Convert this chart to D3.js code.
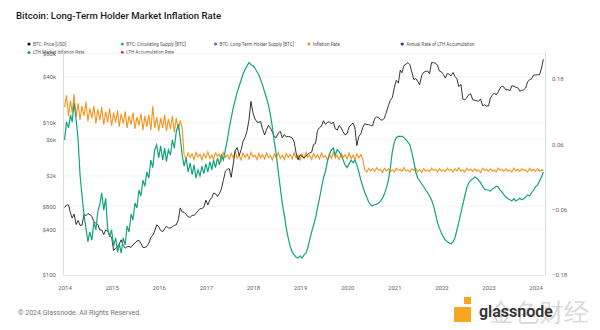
<!DOCTYPE html>
<html>
<head>
<meta charset="utf-8">
<script src="https://cdn.jsdelivr.net/npm/d3@7"></script>
<style>
  body { margin: 0; background: #fff; }
  svg { display: block; font-family: Roboto, Inter, "Noto Sans", sans-serif; }
</style>
</head>
<body>
<div id="chart"></div>
<script>
const width = 600, height = 330;
const plot = { left: 63, right: 545, top: 50, bottom: 275 };

// ---- data (half-monthly samples: 1st and 16th of each month, from Jan 2014) ----
const priceUsd = [
  770,830,830,650,560,630,460,520,450,450,630,600,640,620,590,500,480,460,390,390,340,390,380,330,
  315,210,225,235,255,290,245,225,235,237,230,250,262,280,285,260,230,230,237,262,312,330,378,455,
  430,385,370,405,437,415,416,430,448,455,530,760,673,665,624,580,573,607,608,640,700,740,745,780,
  960,830,970,1040,1190,1170,1070,1180,1350,1740,2300,2450,2480,1920,2870,4300,4700,3700,4400,5700,6450,7800,10900,19000,
  13500,11200,10200,10100,10400,8300,6900,8100,9200,8500,7500,6500,6400,7300,7700,6300,7000,6500,6600,6500,6300,5600,4000,3250,
  3800,3600,3450,3650,3850,4000,4100,5200,5300,7900,8600,9000,10600,9500,10100,10300,9600,10200,8300,8000,9200,8500,7550,6900,
  7200,8800,9350,9900,8550,5000,6650,7100,8650,9700,9450,9500,9150,9150,11350,11900,11650,10900,10800,11500,13800,16700,19700,21300,
  29000,36000,33100,49000,45200,56000,58800,61300,57700,46400,36700,38000,35000,31500,41500,45900,47100,47800,43800,61500,61300,60400,56900,47600,
  46300,43100,38500,44500,43200,41100,45500,40400,37700,29800,31800,20400,19900,21200,23300,23900,20000,19700,19400,19100,20500,16700,17200,16600,
  16600,21200,23100,24600,23150,25000,28500,30300,29300,27000,27200,26300,30500,30200,29200,28700,25900,26600,27000,28500,34700,36600,37700,42200,
  42300,42600,42600,52100,68000
];

const lthMarketInflation = [
  0.068,0.101,0.090,0.114,0.101,0.136,0.105,0.068,0.004,-0.033,
  -0.070,-0.094,-0.119,-0.101,-0.116,-0.083,-0.097,-0.064,-0.051,-0.029,
  -0.061,-0.039,-0.094,-0.110,-0.097,-0.127,-0.112,-0.138,-0.123,-0.140,
  -0.112,-0.125,-0.090,-0.101,-0.068,-0.079,-0.048,-0.057,-0.024,-0.035,
  -0.006,-0.017,0.009,-0.002,0.031,0.017,0.050,0.059,0.035,0.057,
  0.031,0.053,0.028,0.050,0.040,0.068,0.053,0.083,0.097,0.072,
  0.040,0.020,0.035,0.009,0.026,0.004,0.022,-0.002,0.013,0.002,
  0.020,0.006,0.024,0.009,0.028,0.013,0.031,0.017,0.035,0.022,
  0.040,0.031,0.050,0.068,0.090,0.108,0.127,0.141,0.156,0.167,
  0.178,0.189,0.197,0.204,0.210,0.206,0.204,0.200,0.193,0.187,
  0.178,0.169,0.156,0.145,0.132,0.114,0.090,0.064,0.040,0.009,
  -0.020,-0.048,-0.070,-0.094,-0.112,-0.127,-0.138,-0.143,-0.147,-0.149,
  -0.145,-0.149,-0.143,-0.140,-0.131,-0.116,-0.101,-0.088,-0.075,-0.057,
  -0.039,-0.020,-0.002,0.009,0.028,0.040,0.050,0.053,0.040,0.050,
  0.046,0.039,0.031,0.022,0.017,0.024,0.031,0.026,0.031,0.022,
  0.009,-0.006,-0.017,-0.028,-0.037,-0.046,-0.051,-0.053,-0.051,-0.050,
  -0.048,-0.044,-0.039,-0.031,-0.020,-0.006,0.017,0.046,0.064,0.072,
  0.075,0.074,0.075,0.072,0.068,0.064,0.059,0.046,0.028,0.009,
  -0.002,-0.007,-0.013,-0.018,-0.024,-0.029,-0.035,-0.042,-0.053,-0.068,
  -0.083,-0.094,-0.103,-0.110,-0.116,-0.119,-0.121,-0.123,-0.119,-0.112,
  -0.097,-0.083,-0.066,-0.051,-0.035,-0.020,-0.011,-0.006,-0.004,0.000,
  -0.002,-0.006,-0.011,-0.017,-0.022,-0.024,-0.024,-0.026,-0.022,-0.020,
  -0.017,-0.018,-0.024,-0.028,-0.033,-0.037,-0.040,-0.042,-0.044,-0.040,
  -0.044,-0.042,-0.039,-0.042,-0.040,-0.037,-0.033,-0.035,-0.029,-0.024,
  -0.018,-0.015,-0.007,0.000,0.009
];

// inflation rate, split at the 2016 and 2020 halvings
const inflationEarly = [
  0.128,0.150,0.112,0.140,0.118,0.152,0.110,0.135,0.105,0.130,0.112,0.138,0.102,0.126,0.108,0.130,
  0.098,0.124,0.104,0.128,0.096,0.120,0.100,0.126,0.094,0.118,0.100,0.122,0.092,0.116,0.098,0.120,
  0.090,0.112,0.096,0.118,0.088,0.110,0.094,0.116,0.086,0.112,0.092,0.114,0.086,0.130,0.090,0.110,
  0.084,0.108,0.090,0.114,0.084,0.106,0.088,0.112,0.082,0.108,0.086,0.104,0.090
];
const inflationMid = [
  0.040,0.033,0.044,0.036,0.042,0.032,0.045,0.037,0.041,0.031,0.043,0.035,0.046,0.034,0.040,0.032,0.044,0.038,0.042,0.030,
  0.045,0.036,0.041,0.033,0.043,0.035,0.047,0.034,0.040,0.031,0.044,0.036,0.042,0.033,0.045,0.037,0.040,0.032,0.043,0.035,
  0.041,0.033,0.044,0.036,0.039,0.031,0.042,0.035,0.045,0.034,0.040,0.032,0.043,0.036,0.041,0.033,0.044,0.035,0.040,0.031,
  0.042,0.034,0.045,0.036,0.040,0.032,0.043,0.035,0.041,0.033,0.044,0.036,0.039,0.031,0.042,0.034,0.045,0.035,0.040,0.032,
  0.043,0.036,0.041,0.033,0.044,0.034,0.040,0.031,0.042,0.035,0.041,0.033
];
const inflationLate = [
  0.013,0.009,0.016,0.011,0.015,0.010,0.017,0.012,0.014,0.008,0.016,0.011,0.015,0.010,0.013,0.009,0.016,0.012,0.014,0.010,
  0.017,0.011,0.013,0.009,0.015,0.012,0.016,0.010,0.014,0.008,0.015,0.011,0.013,0.010,0.016,0.012,0.014,0.009,0.015,0.011,
  0.013,0.010,0.016,0.012,0.014,0.009,0.015,0.011,0.017,0.010,0.013,0.009,0.016,0.012,0.014,0.010,0.015,0.011,0.013,0.008,
  0.016,0.012,0.014,0.010,0.015,0.011,0.013,0.009,0.016,0.012,0.014,0.010,0.015,0.011,0.013,0.009,0.016,0.011,0.014,0.010,
  0.015,0.012,0.013,0.009,0.016,0.011,0.014,0.010,0.015,0.011,0.013,0.012
];
const inflationRate = inflationEarly.concat(inflationMid, inflationLate);

const leftTicks = [100, 400, 800, 2000, 6000, 10000, 40000, 80000];
const rightTicks = [-0.18, -0.06, 0.06, 0.18];
const yearTicks = d3.range(2014, 2025);

const legendNames = [
  "BTC: Price [USD]", "BTC: Circulating Supply [BTC]", "BTC: Long-Term Holder Supply [BTC]",
  "Inflation Rate", "Annual Rate of LTH Accumulation", "LTH Market Inflation Rate", "LTH Accumulation Rate"
];
const legendColors = ["#111111", "#2a9fc0", "#6b5fd0", "#f7931a", "#1f3a8c", "#14a37f", "#e0245e"];

// half-month sample index -> date
const sampleDate = i => new Date(2014, Math.floor(i / 2), i % 2 ? 16 : 1);

// ---- scales ----
const x = d3.scaleTime()
  .domain([new Date(2013, 11, 20), new Date(2024, 2, 14)])
  .range([plot.left, plot.right]);
const yL = d3.scaleLog().domain([100, 90000]).range([plot.bottom, plot.top]);
const yR = d3.scaleLinear().domain([-0.18, 0.233]).range([plot.bottom, plot.top]);

const svg = d3.select("#chart").append("svg")
  .attr("width", width)
  .attr("height", height);

// title
svg.append("text")
  .attr("x", 16).attr("y", 19)
  .attr("font-size", 9.6)
  .attr("font-weight", 500)
  .attr("fill", "#1b1b1b")
  .text("Bitcoin: Long-Term Holder Market Inflation Rate");

// legend
const legend = svg.append("g").selectAll("g")
  .data(legendNames)
  .join("g")
  .attr("transform", (d, i) => `translate(${29 + (i % 5) * 93.3},${44 + Math.floor(i / 5) * 8.5})`);
legend.append("circle").attr("r", 1.6).attr("fill", (d, i) => legendColors[i]);
legend.append("text")
  .attr("x", 4).attr("dy", "0.35em")
  .attr("font-size", 4.6)
  .attr("fill", "#555")
  .text(d => d);

// grid
svg.append("g").selectAll("line")
  .data(leftTicks.slice(1))
  .join("line")
  .attr("x1", plot.left).attr("x2", plot.right)
  .attr("y1", d => yL(d)).attr("y2", d => yL(d))
  .attr("stroke", "#eef0f2").attr("stroke-width", 0.8);

// axes
const axisLeft = svg.append("g")
  .attr("transform", `translate(${plot.left},0)`)
  .call(d3.axisLeft(yL).tickValues(leftTicks).tickSize(0).tickPadding(7)
    .tickFormat(d => d >= 1000 ? "$" + d / 1000 + "k" : "$" + d));
const axisRight = svg.append("g")
  .attr("transform", `translate(${plot.right},0)`)
  .call(d3.axisRight(yR).tickValues(rightTicks).tickSize(0).tickPadding(7)
    .tickFormat(d3.format(".2f")));
const axisBottom = svg.append("g")
  .attr("transform", `translate(0,${plot.bottom})`)
  .call(d3.axisBottom(x).tickValues(yearTicks.map(yr => new Date(yr, 0, 1))).tickSize(0).tickPadding(11)
    .tickFormat(d3.timeFormat("%Y")));

[axisLeft, axisRight, axisBottom].forEach(a => {
  a.selectAll("text").attr("font-size", 6).attr("fill", "#666")
    .attr("font-family", "Roboto, Inter, 'Noto Sans', sans-serif");
});
axisLeft.select(".domain").attr("stroke", "#dcdcdc");
axisRight.select(".domain").attr("stroke", "#cfe3ec");
axisBottom.select(".domain").attr("stroke", "#e6e6e6");

// lines
svg.append("clipPath").attr("id", "clip")
  .append("rect")
  .attr("x", plot.left).attr("y", plot.top)
  .attr("width", plot.right - plot.left).attr("height", plot.bottom - plot.top);
const lines = svg.append("g").attr("clip-path", "url(#clip)");

const lineR = d3.line().x((d, i) => x(sampleDate(i))).y(d => yR(d));
const lineL = d3.line().x((d, i) => x(sampleDate(i))).y(d => yL(d));

lines.append("path")
  .datum(inflationRate)
  .attr("d", lineR)
  .attr("fill", "none").attr("stroke", "#f7931a").attr("stroke-width", 1.1);
lines.append("path")
  .datum(priceUsd)
  .attr("d", lineL)
  .attr("fill", "none").attr("stroke", "#1e1e1e").attr("stroke-width", 0.9);
lines.append("path")
  .datum(lthMarketInflation)
  .attr("d", lineR)
  .attr("fill", "none").attr("stroke", "#14a37f").attr("stroke-width", 1.2);

// footer
svg.append("text")
  .attr("x", 18).attr("y", 315)
  .attr("font-size", 7).attr("fill", "#777")
  .text("© 2024 Glassnode. All Rights Reserved.");

// watermark
const wm = svg.append("g");
wm.append("rect").attr("x", 464).attr("y", 297).attr("width", 7).attr("height", 7).attr("fill", "#f5a623");
wm.append("rect").attr("x", 454).attr("y", 307).attr("width", 17).attr("height", 15).attr("fill", "#f5a623");
wm.append("text")
  .attr("x", 489).attr("y", 321)
  .attr("font-size", 25).attr("fill", "#cfcfcf").attr("opacity", 0.8)
  .text("金色财经");
wm.append("text")
  .attr("x", 479).attr("y", 317)
  .attr("font-size", 16).attr("font-weight", 600).attr("fill", "#333")
  .text("glassnode");
</script>
</body>
</html>
